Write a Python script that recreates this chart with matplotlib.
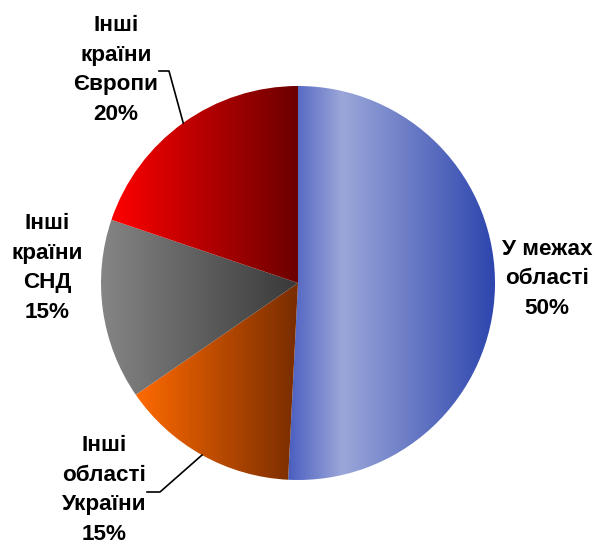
import numpy as np
import matplotlib
matplotlib.use("Agg")
import matplotlib.pyplot as plt
from matplotlib.colors import LinearSegmentedColormap

plt.rcParams['font.family'] = ['Liberation Sans', 'DejaVu Sans']

# shares of the pie, labels as printed on it
labels = ["У межах\nобласті", "Інші\nобласті\nУкраїни", "Інші\nкраїни\nСНД", "Інші\nкраїни\nЄвропи"]
shares = [50.8, 14.6, 14.8, 19.8]
pct_text = ["50%", "15%", "15%", "20%"]

# gradient stops for each slice, left -> right
grads = [
    [(0.0, "#4a5ec0"), (0.26, "#9ba7d9"), (1.0, "#2d45ad")],
    [(0.0, "#ff6a00"), (1.0, "#772c00")],
    [(0.0, "#868686"), (1.0, "#383838")],
    [(0.0, "#ff0000"), (1.0, "#6c0000")],
]

W, H = 596, 548
cx, cy, R = 298, H - 283, 197

fig = plt.figure(figsize=(W / 100, H / 100), dpi=100)
ax = fig.add_axes([0, 0, 1, 1])

wedges, _ = ax.pie(shares, startangle=90, counterclock=False, radius=R,
                   center=(cx, cy), frame=True,
                   wedgeprops=dict(linewidth=0, facecolor="none"))
ax.set_xlim(0, W)
ax.set_ylim(0, H)
ax.set_aspect("equal")
ax.axis("off")

# fill every wedge with a horizontal gradient clipped to its shape
for w, stops in zip(wedges, grads):
    v = w.get_path().vertices
    x0, x1 = v[:, 0].min(), v[:, 0].max()
    y0, y1 = v[:, 1].min(), v[:, 1].max()
    cmap = LinearSegmentedColormap.from_list("g", stops)
    img = ax.imshow(np.linspace(0, 1, 256)[None, :], cmap=cmap, aspect="auto",
                    extent=(x0, x1, y0, y1), interpolation="bilinear", zorder=1)
    img.set_clip_path(w)

# label positions (pixel centres of the text blocks)
lab_xy = [(547, H - 279), (104, H - 490), (47, H - 268), (116, H - 70)]
for lab, pct, (lx, ly) in zip(labels, pct_text, lab_xy):
    ax.text(lx, ly, lab + "\n" + pct, ha="center", va="center",
            fontsize=16.2, fontweight="bold", linespacing=1.55, zorder=5)

# leader lines: from label to the middle of the slice rim
leaders = {1: [(147, H - 492), (160, H - 492)], 3: [(159, H - 71), (169, H - 71)]}
for i, pts in leaders.items():
    w = wedges[i]
    mid = np.deg2rad((w.theta1 + w.theta2) / 2)
    ex, ey = cx + R * np.cos(mid), cy + R * np.sin(mid)
    xs = [p[0] for p in pts] + [ex]
    ys = [p[1] for p in pts] + [ey]
    ax.plot(xs, ys, color="black", lw=1.2, zorder=4)

fig.savefig("out.png", dpi=100)
